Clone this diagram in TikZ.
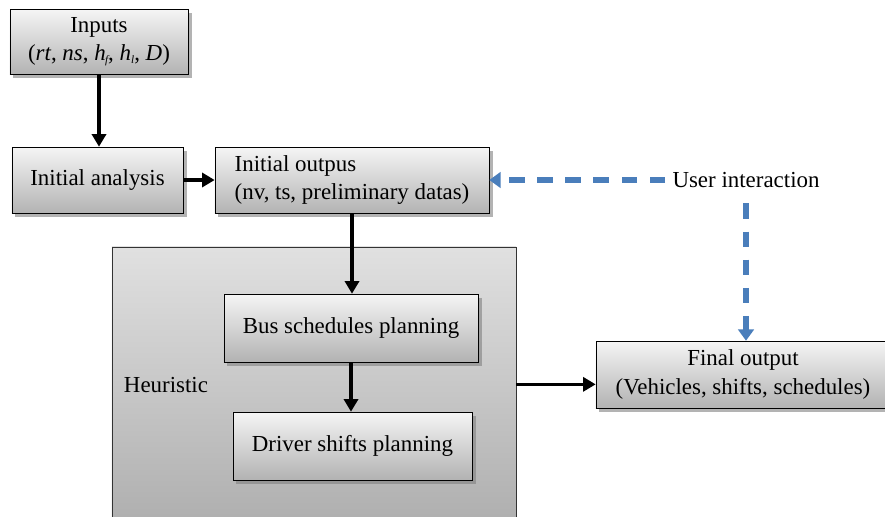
\documentclass[tikz,border=0pt]{standalone}
\usepackage{fontspec}
\setmainfont{Liberation Serif}
\usetikzlibrary{arrows.meta,shadows,positioning}
\definecolor{uiblue}{RGB}{74,126,187}
\begin{document}
\begin{tikzpicture}[x=0.025cm,y=-0.025cm,
  box/.style={draw=black, thin, top color=black!4, bottom color=black!30,
    drop shadow={shadow xshift=2.5pt,shadow yshift=-2.5pt,opacity=.6},
    font=\fontsize{16.3}{20}\selectfont, align=center, inner sep=0pt},
  heurbox/.style={draw=black!80, thin, top color=black!12, bottom color=black!33, inner sep=0pt},
  arr/.style={-{Triangle[length=9pt,width=10pt]}, line width=2.5pt},
  uarr/.style={-{Triangle[length=8pt,width=11pt]}, uiblue, line width=4pt, dash pattern=on 11pt off 9pt}]
\useasboundingbox (0,0) rectangle (885,516);
\clip (0,0) rectangle (885,516);
% top row
\node[box, minimum width=4.45cm, minimum height=1.625cm] (inputs) at (99,42)
  {Inputs\\(\textit{rt}, \textit{ns}, \textit{h}{\footnotesize\textit{\kern-.5pt\raisebox{-2pt}{f}}}, \textit{h}{\footnotesize\textit{\raisebox{-2pt}{l}}}, \textit{D})};
\node[box, minimum width=4.275cm, minimum height=1.65cm] (analysis) at (97.5,180) {Initial analysis};
\node[box, align=left, minimum width=6.85cm, minimum height=1.65cm] (outp) at (352,180)
  {Initial outpus\\(nv, ts, preliminary datas)};
\node[font=\fontsize{16.3}{20}\selectfont, inner sep=5pt] (ui) at (746,180) {User interaction};
% heuristic part
\node[heurbox, minimum width=10.1cm, minimum height=7.45cm] (heur) at (314,396) {};
\node[font=\fontsize{16.3}{20}\selectfont, anchor=west] (heurlbl) at (119,385) {Heuristic};
\node[box, minimum width=6.35cm, minimum height=1.7cm] (bus) at (351,328) {Bus schedules planning};
\node[box, minimum width=5.975cm, minimum height=1.7cm] (driver) at (352.5,446) {Driver shifts planning};
\node[box, minimum width=7.35cm, minimum height=1.675cm] (final) at (743,374.5)
  {Final output\\(Vehicles, shifts, schedules)};
% arrows
\draw[arr] (inputs.south) -- (inputs.south |- analysis.north);
\draw[arr] (analysis) -- (outp);
\draw[arr] (outp.south) -- (outp.south |- bus.north);
\draw[arr] (bus.south) -- (bus.south |- driver.north);
\draw[arr] ([yshift=-7pt]heur.east |- final.west) -- ([yshift=-7pt]final.west);
\draw[uarr] (ui.west) -- (outp.east);
\draw[uarr] ([yshift=-6pt]ui.south) -- (ui.south |- final.north);
\end{tikzpicture}
\end{document}
